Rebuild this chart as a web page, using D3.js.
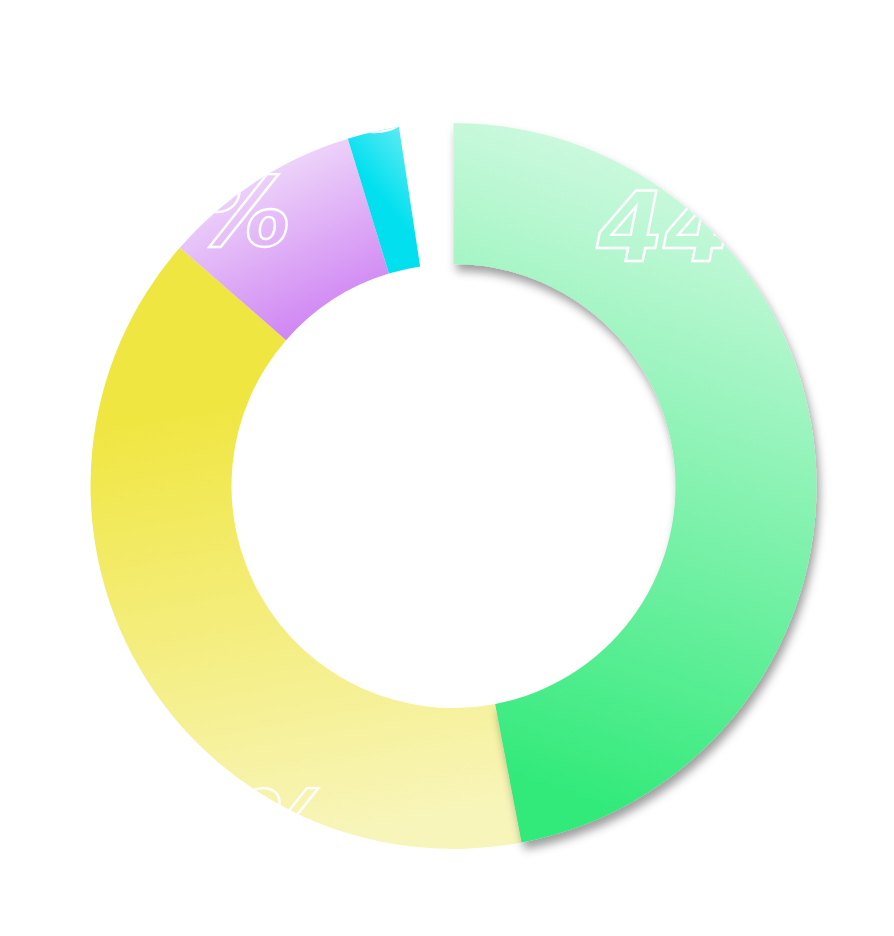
<!DOCTYPE html>
<html>
<head>
<meta charset="utf-8">
<script src="https://cdn.jsdelivr.net/npm/d3@7"></script>
<style>
  html, body { margin: 0; padding: 0; background: #ffffff; }
  svg { display: block; }
</style>
</head>
<body>
<div id="chart"></div>
<script>
// ---- data ----
const categories = ["green", "yellow", "purple", "cyan"];
const values = [47.0, 39.4, 8.9, 2.3];          // share of the full circle, %
const labels = ["44%", "37%", "9%", "3%"];

// ---- styles ----
const gradientStops = [
  { light: "#d8faE6", strong: "#30ea79", x1: 0.62, y1: 0.0, x2: 0.45, y2: 0.97 },
  { light: "#f8f5bb", strong: "#f0e641", x1: 0.45, y1: 1.0, x2: 0.35, y2: 0.25 },
  { light: "#f4e6fb", strong: "#cf84f3", x1: 0.30, y1: 0.0, x2: 0.75, y2: 0.9 },
  { light: "#62ebf4", strong: "#02e0ef", x1: 0.80, y1: 0.0, x2: 0.50, y2: 0.5 }
];
// label placement: fraction along the slice and radius
const labelPlacement = [
  { t: 0.265, r: 366 },
  { t: 0.322, r: 414 },
  { t: 0.234, r: 367 },
  { t: 1.68,  r: 390 }
];

const W = 894, H = 936;
const cx = 453.5, cy = 486;
const outerR = 363, innerR = 222;

const svg = d3.select("#chart").append("svg")
  .attr("width", W).attr("height", H);
const defs = svg.append("defs");

// drop shadow for the highlighted slice
const f = defs.append("filter").attr("id", "shadow")
  .attr("x", "-20%").attr("y", "-20%").attr("width", "140%").attr("height", "140%");
f.append("feDropShadow").attr("dx", 3).attr("dy", 7).attr("stdDeviation", 5)
  .attr("flood-color", "#000").attr("flood-opacity", 0.38);

gradientStops.forEach((g, i) => {
  const lg = defs.append("linearGradient").attr("id", "grad" + i)
    .attr("x1", g.x1).attr("y1", g.y1).attr("x2", g.x2).attr("y2", g.y2);
  lg.append("stop").attr("offset", "0%").attr("stop-color", g.light);
  lg.append("stop").attr("offset", "100%").attr("stop-color", g.strong);
});

const total = d3.sum(values);
const pie = d3.pie().sort(null).value(d => d)
  .startAngle(0).endAngle(2 * Math.PI * total / 100);
const arcs = pie(values);
const arc = d3.arc().innerRadius(innerR).outerRadius(outerR);

const g = svg.append("g").attr("transform", `translate(${cx},${cy})`);

arcs.forEach((d, i) => {
  defs.append("clipPath").attr("id", "clip" + i)
    .append("path").attr("d", arc(d));
});

// draw non-highlighted first, highlighted (green) last
const order = [1, 2, 3, 0];
order.forEach(i => {
  const d = arcs[i];
  const sg = g.append("g").attr("class", "slice " + categories[i]);
  sg.append("path")
    .attr("d", arc(d))
    .attr("fill", `url(#grad${i})`)
    .attr("filter", i === 0 ? "url(#shadow)" : null);
  const p = labelPlacement[i];
  const a = d.startAngle + (d.endAngle - d.startAngle) * p.t;
  const lx = p.r * Math.sin(a), ly = -p.r * Math.cos(a);
  sg.append("g").attr("clip-path", `url(#clip${i})`)
    .append("text")
    .attr("x", lx).attr("y", ly).attr("dy", "0.36em")
    .attr("text-anchor", "middle")
    .style("font-family", "'DejaVu Sans', sans-serif")
    .style("font-weight", "bold")
    .style("font-style", "italic")
    .style("font-size", "96px")
    .attr("fill", "none")
    .attr("stroke", "#ffffff")
    .attr("stroke-width", 2.4)
    .text(labels[i]);
});
</script>
</body>
</html>
